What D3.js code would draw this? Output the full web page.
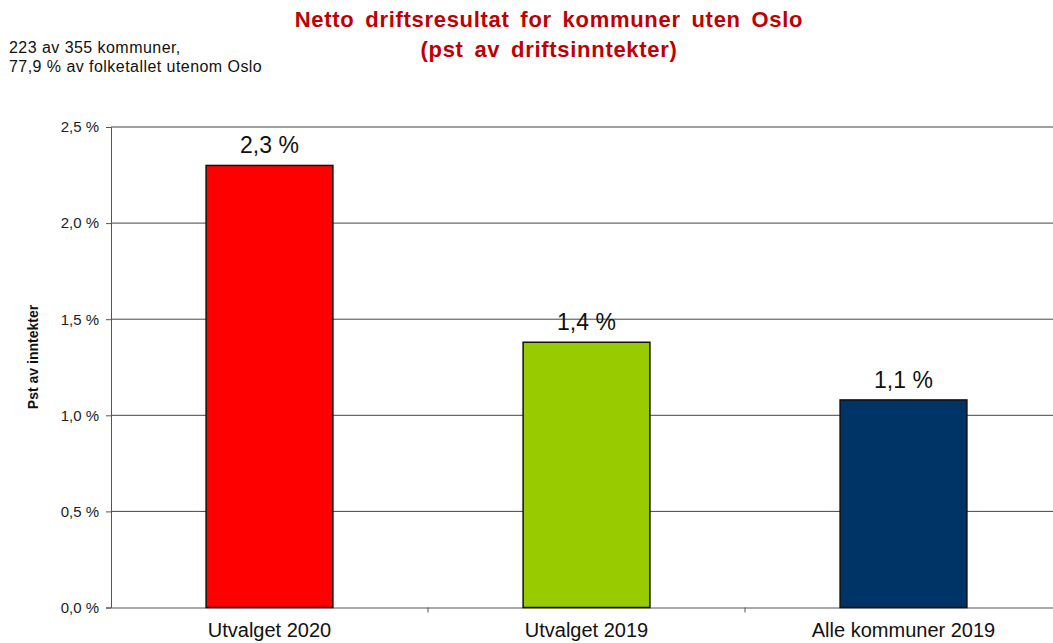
<!DOCTYPE html>
<html>
<head>
<meta charset="utf-8">
<script src="https://cdn.jsdelivr.net/npm/d3@7"></script>
<style>
  body { margin: 0; background: #fff; }
  svg { display: block; font-family: Arial, "Liberation Sans", sans-serif; }
</style>
</head>
<body>
<script>
const categories = ["Utvalget 2020", "Utvalget 2019", "Alle kommuner 2019"];
const values = [2.30, 1.38, 1.08];
const valueLabels = ["2,3 %", "1,4 %", "1,1 %"];
const colors = ["#FF0000", "#99CC00", "#003366"];
const yTicks = [0, 0.5, 1.0, 1.5, 2.0, 2.5];

const width = 1053;
const height = 643;
const plot = { left: 111, right: 1062, top: 127, bottom: 607.5 };

let svg = d3.select('body')
            .append('svg')
            .attr('width', width)
            .attr('height', height);

let x = d3.scaleBand()
          .domain(categories)
          .range([plot.left, plot.right])
          .padding(0);

let y = d3.scaleLinear()
          .domain([0, 2.5])
          .range([plot.bottom, plot.top]);

const fmt = d => d3.format('.1f')(d).replace('.', ',') + ' %';

// gridlines
svg.append('g')
   .selectAll('line')
   .data(yTicks.filter(d => d > 0))
   .enter()
   .append('line')
   .attr('x1', plot.left)
   .attr('x2', plot.right)
   .attr('y1', d => y(d))
   .attr('y2', d => y(d))
   .attr('stroke', '#444')
   .attr('stroke-width', 1);

// y axis
let yAxis = svg.append('g')
   .attr('transform', `translate(${plot.left},0)`)
   .call(d3.axisLeft(y).tickValues(yTicks).tickFormat(fmt).tickSizeOuter(0).tickSize(5).tickPadding(7));
yAxis.select('.domain').attr('stroke', '#555');
yAxis.selectAll('.tick line').attr('stroke', '#555');
yAxis.selectAll('text').attr('font-size', 15).attr('fill', '#222').attr('font-family', 'Arial, "Liberation Sans", sans-serif');

// x axis
let xAxis = svg.append('g')
   .attr('transform', `translate(0,${plot.bottom})`)
   .call(d3.axisBottom(x).tickSize(0).tickPadding(15));
xAxis.select('.domain').attr('stroke', '#555');
xAxis.selectAll('text').attr('font-size', 20).attr('fill', '#111').attr('font-family', 'Arial, "Liberation Sans", sans-serif');

// category separator ticks
svg.append('g')
   .selectAll('line')
   .data(categories.slice(1))
   .enter()
   .append('line')
   .attr('x1', d => x(d))
   .attr('x2', d => x(d))
   .attr('y1', plot.bottom)
   .attr('y2', plot.bottom + 5)
   .attr('stroke', '#555');

// bars
const barW = x.bandwidth() * 0.4;
svg.append('g')
   .selectAll('rect')
   .data(values)
   .enter()
   .append('rect')
   .attr('x', (d, i) => x(categories[i]) + (x.bandwidth() - barW) / 2)
   .attr('y', d => y(d))
   .attr('width', barW)
   .attr('height', d => y(0) - y(d))
   .attr('fill', (d, i) => colors[i])
   .attr('stroke', '#111')
   .attr('stroke-width', 1.5);

// value labels
svg.append('g')
   .selectAll('text')
   .data(values)
   .enter()
   .append('text')
   .attr('x', (d, i) => x(categories[i]) + x.bandwidth() / 2)
   .attr('y', d => y(d) - 12)
   .attr('text-anchor', 'middle')
   .attr('font-size', 23)
   .attr('fill', '#111')
   .text((d, i) => valueLabels[i]);

// y axis title
svg.append('text')
   .attr('transform', 'translate(38,357) rotate(-90)')
   .attr('text-anchor', 'middle')
   .attr('font-size', 14)
   .attr('font-weight', 'bold')
   .attr('fill', '#111')
   .text('Pst av inntekter');

// title
svg.append('text')
   .attr('x', 549)
   .attr('y', 27)
   .attr('text-anchor', 'middle')
   .attr('font-size', 22)
   .attr('font-weight', 'bold')
   .attr('fill', '#C00000')
   .attr('letter-spacing', 0.7)
   .attr('word-spacing', 4)
   .text('Netto driftsresultat for kommuner uten Oslo');
svg.append('text')
   .attr('x', 549)
   .attr('y', 57)
   .attr('text-anchor', 'middle')
   .attr('font-size', 22)
   .attr('font-weight', 'bold')
   .attr('fill', '#C00000')
   .attr('letter-spacing', 0.7)
   .attr('word-spacing', 4)
   .text('(pst av driftsinntekter)');

// note
svg.append('text')
   .attr('x', 9)
   .attr('y', 53)
   .attr('font-size', 16)
   .attr('fill', '#111')
   .attr('letter-spacing', 0.45)
   .text('223 av 355 kommuner,');
svg.append('text')
   .attr('x', 9)
   .attr('y', 72)
   .attr('font-size', 16)
   .attr('fill', '#111')
   .attr('letter-spacing', 0.45)
   .text('77,9 % av folketallet utenom Oslo');
</script>
</body>
</html>
